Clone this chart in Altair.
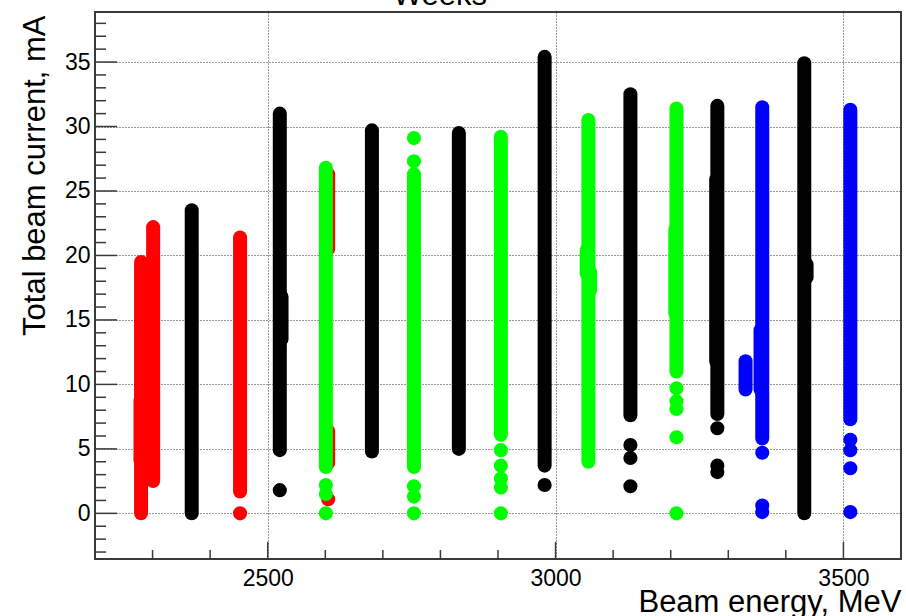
import altair as alt
import pandas as pd

# ---- data -------------------------------------------------------------
# Continuous runs: beam energy (MeV), run period, lowest and highest
# total beam current (mA) recorded while running at that energy.
seg_energy = [2605, 2605, 2280, 2279, 2301, 2368, 2452, 2521, 2524, 2601,
              2681, 2754, 2832, 2905, 2981, 3057, 3054, 3060, 3130, 3210,
              3208, 3281, 3279, 3330, 3359, 3356, 3432, 3436, 3512]
seg_period = ["P1", "P1", "P1", "P1", "P1", "P2", "P1", "P2", "P2", "P3",
              "P2", "P3", "P2", "P3", "P2", "P3", "P3", "P3", "P2", "P3",
              "P3", "P2", "P2", "P4", "P4", "P4", "P2", "P2", "P4"]
seg_low = [20.5, 3.9, 0.0, 4.1, 2.5, 0.0, 1.7, 4.9, 13.5, 3.6,
           4.8, 3.6, 5.0, 6.1, 3.7, 4.0, 18.6, 17.3, 7.6, 11.0,
           15.5, 7.7, 11.8, 9.6, 5.8, 9.6, 0.0, 18.3, 7.3]
seg_high = [26.3, 6.4, 19.5, 8.8, 22.2, 23.5, 21.4, 31.0, 16.8, 26.8,
            29.7, 26.3, 29.5, 29.2, 35.4, 30.5, 20.4, 18.7, 32.5, 31.4,
            22.0, 31.6, 25.9, 11.8, 31.5, 14.2, 34.9, 19.3, 31.3]

# Isolated readings away from the continuous spans.
pt_energy = [2605, 2452, 2521, 2601, 2601, 2601,
             2754, 2754, 2754, 2754, 2754,
             2905, 2905, 2905, 2905, 2905,
             2981, 3130, 3130, 3130,
             3210, 3210, 3210, 3210, 3210,
             3281, 3281, 3281,
             3359, 3359, 3359,
             3512, 3512, 3512, 3512]
pt_period = ["P1", "P1", "P2", "P3", "P3", "P3",
             "P3", "P3", "P3", "P3", "P3",
             "P3", "P3", "P3", "P3", "P3",
             "P2", "P2", "P2", "P2",
             "P3", "P3", "P3", "P3", "P3",
             "P2", "P2", "P2",
             "P4", "P4", "P4",
             "P4", "P4", "P4", "P4"]
pt_current = [1.1, 0.0, 1.8, 2.2, 1.5, 0.0,
              29.1, 27.3, 2.1, 1.3, 0.0,
              4.9, 3.7, 2.7, 2.0, 0.0,
              2.2, 5.3, 4.3, 2.1,
              9.7, 8.7, 8.1, 5.9, 0.0,
              6.6, 3.7, 3.2,
              4.7, 0.6, 0.1,
              5.7, 4.9, 3.5, 0.1]

periods = ["P1", "P2", "P3", "P4"]
period_colors = ["#ff0000", "#000000", "#00ff00", "#0000ff"]

x_labels = [2500, 3000, 3500]
y_labels = [0, 5, 10, 15, 20, 25, 30, 35]
x_minor = [2300, 2400, 2600, 2700, 2800, 2900, 3100, 3200, 3300, 3400]
y_minor = [v for v in range(-3, 39) if v % 5 != 0]

x_domain = [2200, 3600]
y_domain = [-3.54, 38.88]

# ---- layout -----------------------------------------------------------
W, H = 806, 547
FONT = "Liberation Sans"
FRAME = "#3a3a3a"
GRID = "#333333"

segments = pd.DataFrame({"energy": seg_energy, "period": seg_period,
                         "low": seg_low, "high": seg_high})
points = pd.DataFrame({"energy": pt_energy, "period": pt_period,
                       "current": pt_current})

x_scale = alt.Scale(domain=x_domain, nice=False, zero=False)
y_scale = alt.Scale(domain=y_domain, nice=False, zero=False)
color = alt.Color("period:N", scale=alt.Scale(domain=periods, range=period_colors),
                  legend=None)

x_axis = alt.Axis(values=x_labels, format="d", grid=True, gridDash=[1, 2],
                  gridColor=GRID, gridWidth=1, ticks=False, tickSize=0,
                  domain=False, labelFont=FONT, labelFontSize=23,
                  labelColor="black", labelPadding=26,
                  labelBaseline="alphabetic", title="Beam energy, MeV",
                  titleFont=FONT, titleFontSize=31, titleFontWeight="normal",
                  titleColor="black", titleX=W, titleY=52, titleAlign="right",
                  titleBaseline="alphabetic")
y_axis = alt.Axis(values=y_labels, format="d", grid=True, gridDash=[1, 2],
                  gridColor=GRID, gridWidth=1, ticks=False, tickSize=0,
                  domain=False, labelFont=FONT, labelFontSize=23,
                  labelColor="black", labelPadding=5,
                  title="Total beam current, mA", titleFont=FONT,
                  titleFontSize=31, titleFontWeight="normal",
                  titleColor="black", titleX=-51, titleY=3,
                  titleAlign="right", titleAngle=270,
                  titleBaseline="alphabetic")

# Continuous spans drawn as thick round-capped strokes (marker width)
runs = alt.Chart(segments).mark_rule(strokeCap="round", strokeWidth=14).encode(
    x=alt.X("energy:Q", scale=x_scale, axis=x_axis),
    y=alt.Y("low:Q", scale=y_scale, axis=y_axis),
    y2="high:Q",
    color=color,
)

dots = alt.Chart(points).mark_circle(size=200, opacity=1).encode(
    x=alt.X("energy:Q", scale=x_scale, axis=x_axis),
    y=alt.Y("current:Q", scale=y_scale, axis=y_axis),
    color=color,
)


# Inward tick marks along the left and bottom frame edges
def y_ticks(values, length):
    return alt.Chart(pd.DataFrame({"low": values})).mark_rule(
        color=FRAME, strokeWidth=1.5).encode(
        y=alt.Y("low:Q", scale=y_scale, axis=y_axis),
        x=alt.value(0), x2=alt.value(length))


def x_ticks(values, length):
    return alt.Chart(pd.DataFrame({"energy": values})).mark_rule(
        color=FRAME, strokeWidth=1.5).encode(
        x=alt.X("energy:Q", scale=x_scale, axis=x_axis),
        y=alt.value(H), y2=alt.value(H - length))


title = alt.Chart(pd.DataFrame({"t": ["Weeks"]})).mark_text(
    font=FONT, fontSize=31, align="center", baseline="alphabetic",
    color="black").encode(text="t:N", x=alt.value(345), y=alt.value(-7))

chart = alt.layer(
    y_ticks(y_minor, 11), y_ticks(y_labels, 22),
    x_ticks(x_minor, 9), x_ticks(x_labels, 17),
    runs, dots, title,
).properties(
    width=W, height=H,
    padding={"left": 95, "top": 12, "right": 5, "bottom": 57},
    autosize=alt.AutoSizeParams(type="none"),
).configure_view(
    stroke=FRAME, strokeWidth=2,
)

chart.save("out.html", embed_options={"renderer": "svg", "actions": False})
